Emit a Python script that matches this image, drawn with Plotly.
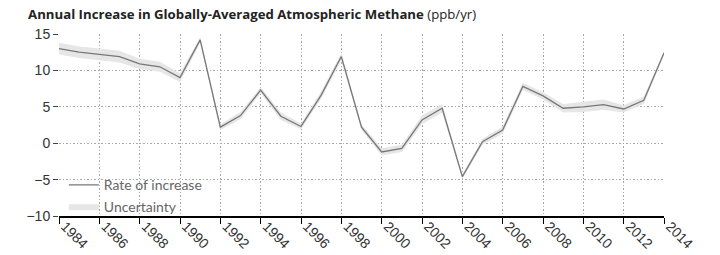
import plotly.graph_objects as go

years = list(range(1984, 2015))
rate = [13.0, 12.5, 12.2, 11.9, 10.9, 10.5, 9.0, 14.2, 2.2, 3.8,
        7.3, 3.7, 2.3, 6.6, 11.9, 2.2, -1.2, -0.7, 3.2, 4.8,
        -4.6, 0.2, 1.8, 7.8, 6.5, 4.8, 5.0, 5.3, 4.7, 5.9, 12.4]
uncert = [0.8, 0.8, 0.8, 0.8, 0.7, 0.7, 0.6, 0.4, 0.4, 0.5,
          0.4, 0.5, 0.4, 0.5, 0.5, 0.4, 0.5, 0.5, 0.6, 0.6,
          0.3, 0.4, 0.5, 0.5, 0.5, 0.6, 0.7, 0.7, 0.5, 0.5, 0.3]
x_ticks = list(range(1984, 2015, 2))
y_ticks = [-10, -5, 0, 5, 10, 15]

upper = [r + u for r, u in zip(rate, uncert)]
lower = [r - u for r, u in zip(rate, uncert)]

fig = go.Figure()

# uncertainty band as closed polygon
fig.add_trace(go.Scatter(x=years + years[::-1],
                         y=upper + lower[::-1],
                         fill="toself",
                         fillcolor="#e6e6e6",
                         line_width=0,
                         mode="lines",
                         name="Uncertainty",
                         legendrank=2,
                         hoverinfo="skip"
))
fig.add_trace(go.Scatter(x=years,
                         y=rate,
                         mode="lines",
                         line_color="#777777",
                         line_width=1.3,
                         name="Rate of increase",
                         legendrank=1
))

tick_font = dict(size=14, color="#333333", family="Liberation Sans, Arial, sans-serif")

fig.update_xaxes(range=[1984, 2014],
                 tickvals=x_ticks,
                 tickangle=45,
                 ticklabelstandoff=-11,
                 ticklabelshift=6,
                 automargin=False,
                 showgrid=True,
                 gridcolor="#a8a8a8",
                 griddash="1.5px,2px",
                 gridwidth=1,
                 showline=True,
                 linecolor="black",
                 linewidth=1.5,
                 ticks="outside",
                 ticklen=6,
                 tickcolor="black",
                 zeroline=False,
                 tickfont=tick_font
)
fig.update_yaxes(range=[-10, 15],
                 tickvals=y_ticks,
                 automargin=False,
                 showgrid=True,
                 gridcolor="#a8a8a8",
                 griddash="1.5px,2px",
                 gridwidth=1,
                 ticks="outside",
                 ticklen=5,
                 tickcolor="#444444",
                 zeroline=False,
                 tickfont=tick_font
)
fig.update_layout(width=720,
                  height=255,
                  margin=dict(l=59, r=56, t=34, b=39, autoexpand=False),
                  plot_bgcolor="white",
                  paper_bgcolor="white",
                  font=dict(family="Lato, sans-serif"),
                  title=dict(text="<b>Annual Increase in Globally-Averaged Atmospheric Methane</b> (ppb/yr)",
                             x=0.039, xanchor="left", y=0.945, yanchor="middle",
                             font=dict(size=13.2, color="#222222", family="Open Sans, sans-serif")),
                  legend=dict(x=0.008, y=-0.035, xanchor="left", yanchor="bottom",
                              bgcolor="rgba(0,0,0,0)",
                              font=dict(size=14, color="#666666"),
                              tracegroupgap=0, itemwidth=30),
                  showlegend=True
)

fig.write_html("out.html",
               config={"displayModeBar": False},
               post_script="document.body.style.margin='0';")
